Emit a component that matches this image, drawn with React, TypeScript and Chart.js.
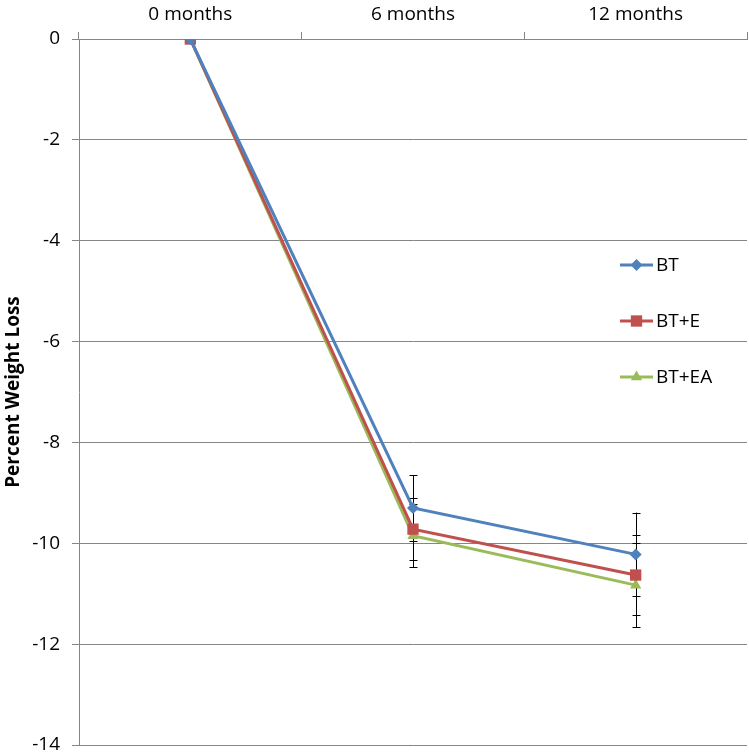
import React, { useEffect, useRef } from "react";
import { Chart, registerables } from "chart.js";

Chart.register(...registerables);

const categories = ["0 months", "6 months", "12 months"];
const seriesNames = ["BT", "BT+E", "BT+EA"];
const btValues = [0, -9.3, -10.22];
const bteValues = [0, -9.72, -10.63];
const bteaValues = [0, -9.85, -10.83];
const btErrors = [0, 0.65, 0.83];
const bteErrors = [0, 0.62, 0.8];
const bteaErrors = [0, 0.62, 0.83];
const yMin = -14;
const yMax = 0;
const yStep = 2;

const colors = ["#4F81BD", "#C0504D", "#9BBB59"];
const shapes = ["rectRot", "rect", "triangle"];
const radii = [6, 8, 6.5];
const FONT = "'Open Sans', 'Liberation Sans', sans-serif";

const errorBarPlugin = {
  id: "errorBars",
  beforeDatasetsDraw(chart: any) {
    const ctx = chart.ctx;
    const yScale = chart.scales.y;
    const errs = [btErrors, bteErrors, bteaErrors];
    ctx.save();
    ctx.strokeStyle = "#000";
    ctx.lineWidth = 1;
    chart.data.datasets.forEach((ds: any, di: number) => {
      const meta = chart.getDatasetMeta(di);
      ds.data.forEach((v: number, i: number) => {
        const e = errs[di][i];
        if (!e) return;
        const x = Math.round(meta.data[i].x) + 0.5;
        const yt = yScale.getPixelForValue(v + e);
        const yb = yScale.getPixelForValue(v - e);
        ctx.beginPath();
        ctx.moveTo(x, yt);
        ctx.lineTo(x, yb);
        ctx.moveTo(x - 4, Math.round(yt) + 0.5);
        ctx.lineTo(x + 4, Math.round(yt) + 0.5);
        ctx.moveTo(x - 4, Math.round(yb) + 0.5);
        ctx.lineTo(x + 4, Math.round(yb) + 0.5);
        ctx.stroke();
      });
    });
    ctx.restore();
  },
};

function drawMarker(ctx: CanvasRenderingContext2D, shape: string, x: number, y: number, r: number) {
  ctx.beginPath();
  if (shape === "rectRot") {
    ctx.moveTo(x, y - r);
    ctx.lineTo(x + r, y);
    ctx.lineTo(x, y + r);
    ctx.lineTo(x - r, y);
  } else if (shape === "rect") {
    const s = r * Math.SQRT1_2;
    ctx.rect(x - s, y - s, 2 * s, 2 * s);
  } else {
    const h = (r * 3) / 2;
    const w = (r * 3) / Math.sqrt(3);
    ctx.moveTo(x, y - h * 0.667);
    ctx.lineTo(x + w / 2, y + h * 0.333);
    ctx.lineTo(x - w / 2, y + h * 0.333);
  }
  ctx.closePath();
  ctx.fill();
}

const legendPlugin = {
  id: "insideLegend",
  afterDraw(chart: any) {
    const ctx = chart.ctx;
    const area = chart.chartArea;
    const x0 = area.left + 541;
    const y0 = area.top + 226;
    const gap = 56;
    ctx.save();
    seriesNames.forEach((name, i) => {
      const y = y0 + i * gap;
      ctx.strokeStyle = colors[i];
      ctx.fillStyle = colors[i];
      ctx.lineWidth = 3;
      ctx.beginPath();
      ctx.moveTo(x0, y);
      ctx.lineTo(x0 + 33, y);
      ctx.stroke();
      drawMarker(ctx, shapes[i], x0 + 16.5, y, radii[i]);
      ctx.fillStyle = "#000";
      ctx.font = `19px ${FONT}`;
      ctx.textBaseline = "middle";
      ctx.textAlign = "left";
      ctx.fillText(name, x0 + 36, y + 1);
    });
    ctx.restore();
  },
};

export default function App() {
  const ref = useRef<HTMLCanvasElement>(null);
  useEffect(() => {
    if (!ref.current) return;
    const values = [btValues, bteValues, bteaValues];
    const chart = new Chart(ref.current, {
      type: "line",
      data: {
        labels: categories,
        datasets: seriesNames.map((name, i) => ({
          label: name,
          data: values[i],
          borderColor: colors[i],
          backgroundColor: colors[i],
          borderWidth: 3,
          pointStyle: shapes[i] as any,
          pointRadius: radii[i],
          pointBorderWidth: 0,
          pointBackgroundColor: colors[i],
          tension: 0,
        })),
      },
      options: {
        responsive: false,
        animation: false,
        layout: { autoPadding: false, padding: { left: 0, right: 2, top: 0, bottom: 9 } },
        plugins: {
          legend: { display: false },
          tooltip: { enabled: false },
        },
        scales: {
          x: {
            type: "category",
            position: "top",
            offset: true,
            grid: {
              offset: true,
              drawOnChartArea: false,
              drawTicks: true,
              tickLength: 7,
              color: "#868686",
            },
            border: { display: true, color: "#868686" },
            ticks: { color: "#000", font: { family: FONT, size: 19 }, padding: 6 },
            afterFit: (s: any) => {
              s.height = 39;
              s.paddingLeft = 0;
              s.paddingRight = 0;
            },
          },
          y: {
            min: yMin,
            max: yMax,
            ticks: {
              stepSize: yStep,
              color: "#000",
              font: { family: FONT, size: 19 },
              padding: 12,
            },
            grid: { color: "#868686", tickLength: 7 },
            border: { display: true, color: "#868686" },
            title: {
              display: true,
              text: "Percent Weight Loss",
              color: "#000",
              font: { family: FONT, size: 19, weight: "bold" },
              padding: { top: 2, bottom: 2 },
            },
            afterFit: (s: any) => {
              s.width = 79;
              s.paddingTop = 0;
              s.paddingBottom = 0;
            },
          },
        },
      },
      plugins: [errorBarPlugin, legendPlugin],
    });
    return () => chart.destroy();
  }, []);
  return (
    <div style={{ position: "absolute", left: 0, top: 0, width: 749, height: 754 }}>
      <canvas ref={ref} width={749} height={754} />
    </div>
  );
}
